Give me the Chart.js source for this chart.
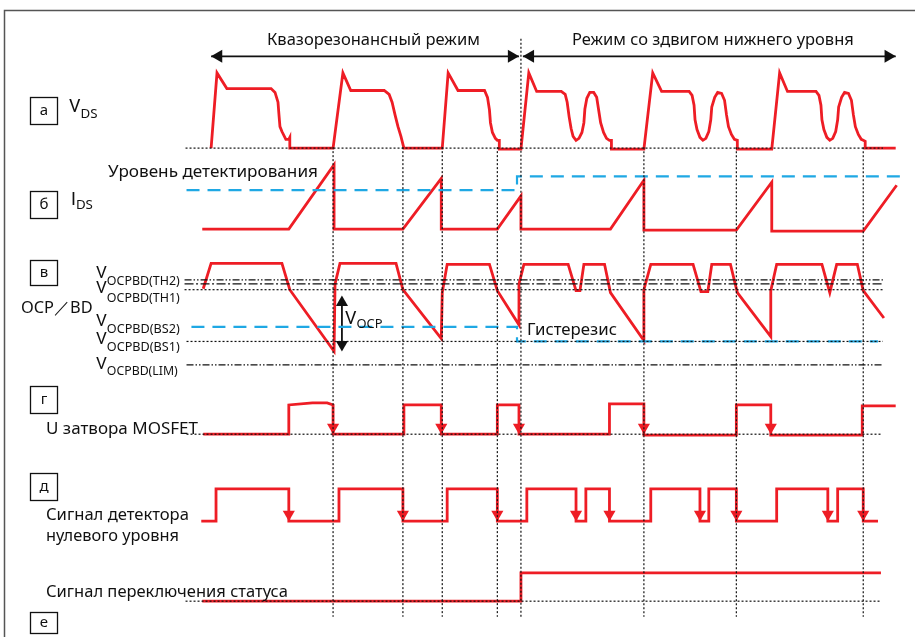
<!DOCTYPE html>
<html lang="ru">
<head>
<meta charset="UTF-8">
<title>Квазорезонансный режим / режим со сдвигом нижнего уровня</title>
<script src="https://cdn.jsdelivr.net/npm/chart.js"></script>
<style>
    html, body { margin: 0; padding: 0; background: #fff; }
    #wrap { width: 915px; height: 637px; }
</style>
</head>
<body>
<div id="wrap"><canvas id="timing" width="915" height="637"></canvas></div>
<script>
    // время (в тех же единицах, что и ширина рисунка) и уровни сигналов над их нулевой линией

    // а) V_DS
    const vdsT = [207, 213, 223, 268, 272, 275, 276, 277, 279, 283, 286, 287, 287,
        331, 341, 349, 383, 388, 391, 394, 397, 400, 403,
        442, 448, 458, 485, 488, 490, 491, 493, 496, 498, 500, 500,
        522, 530, 538, 563, 567, 569, 571, 573, 575, 578, 581, 584, 586, 587, 589, 592, 596, 599, 601, 603, 606, 609, 612, 614, 614,
        647, 656, 665, 693, 696, 698, 699, 701, 704, 707, 710, 713, 715, 716, 719, 722, 726, 729, 731, 733, 736, 739, 742, 742,
        777, 785, 793, 822, 825, 827, 828, 830, 833, 836, 839, 842, 844, 845, 848, 851, 855, 858, 860, 862, 865, 868, 870, 872, 872, 903];
    const vdsV = [0, 77, 61, 61, 57, 47, 34, 22, 17, 9, 9, 11, 0,
        0, 77, 59, 59, 55, 47, 34, 22, 12, 0,
        0, 77, 59, 59, 52, 39, 26, 16, 10, 8, 8, -1,
        -1, 77, 58, 58, 55, 47, 32, 20, 12, 8, 10, 16, 26, 40, 51, 57, 57, 52, 39, 26, 16, 10, 8, 8, -1,
        -1, 77, 58, 58, 54, 44, 29, 19, 11, 8, 10, 17, 29, 42, 52, 57, 56, 49, 34, 22, 14, 9, 8, -1,
        -1, 77, 58, 58, 54, 44, 29, 19, 11, 8, 10, 17, 29, 42, 52, 57, 56, 49, 34, 22, 14, 9, 8, 7, 0, 0];

    // б) I_DS и уровень детектирования
    const idsT = [198, 286, 332, 332, 402, 441, 441, 498, 522, 522, 613, 647, 647, 741, 777, 777, 870, 904];
    const idsV = [0, 0, 66, 0, 0, 52, 0, 0, 34, 0, 0, 50, -1, -1, 48, -2, -2, 45];
    const detectT = [182, 518, 518, 908];
    const detectV = [40, 40, 54, 54];

    // в) OCP/BD
    const ocpT = [199, 207, 279, 287, 332, 333, 338, 395, 402, 441, 442, 447, 490, 498, 520, 520, 525,
        570, 578, 582, 586, 607, 613, 647, 647, 654, 697, 705, 712, 716, 735, 742, 776, 776, 782,
        828, 836, 843, 864, 870, 891];
    const ocpV = [78, 104, 104, 77, 14, 83, 104, 104, 77, 27, 74, 103, 103, 76, 41, 83, 103,
        103, 76, 76, 103, 103, 74, 25, 77, 103, 103, 75, 75, 103, 103, 74, 29, 76, 103,
        103, 74, 103, 103, 76, 48];
    const thresholdNames = ['TH2', 'TH1', 'BS2', 'BS1', 'LIM'];
    const thresholdV = [87, 77, 39, 24, 0];
    const th2CompanionV = 83;
    const hystT = [187, 518, 518, 885];
    const hystV = [39, 39, 24, 24];

    // г) напряжение затвора MOSFET
    const gateT = [199, 286, 286, 310, 325, 331, 331, 403, 403, 441, 441, 498, 498, 520, 520,
        612, 612, 647, 647, 741, 741, 776, 776, 869, 869, 903];
    const gateV = [0, 0, 30, 32, 32, 30, 0, 0, 30, 30, 0, 0, 30, 30, 0,
        0, 31, 31, -1, -1, 30, 30, -1, -1, 29, 29];
    const gateFallT = [331, 441, 520, 647, 776];

    // д) сигнал детектора нулевого уровня
    const zcdT = [197, 212, 212, 286, 286, 337, 337, 402, 402, 447, 447, 498, 498, 528, 528, 578, 578, 588, 588,
        612, 612, 654, 654, 704, 704, 713, 713, 741, 741, 782, 782, 834, 834, 844, 844, 870, 870, 885];
    const zcdV = [0, 0, 33, 33, 0, 0, 33, 33, 0, 0, 33, 33, 0, 0, 33, 33, 0, 0, 33,
        33, 0, 0, 33, 33, 0, 0, 33, 33, 0, 0, 33, 33, 0, 0, 33, 33, 0, 0];
    const zcdFallT = [286, 402, 498, 578, 612, 704, 741, 834, 870];

    // е) сигнал переключения статуса
    const statusT = [198, 522, 522, 888];
    const statusV = [0, 0, 29, 29];

    // моменты переключения (вертикальные пунктиры)
    const markerT = [331, 402, 442, 498, 522, 647, 741, 870];
    const modeSwitchT = 522;

    // --- раскладка ---
    const base = { vds: 144, ids: 227, ocp: 366, gate: 437, zcd: 526, status: 608 };
    const RED = '#ee1d25';
    const BLUE = '#1fa8e4';
    const INK = '#111';
    const FONT = "'Noto Sans', 'Open Sans', sans-serif";
    const DOT = [2, 2];
    const DASH_DOT_DOT = [7, 2, 1.5, 2, 1.5, 2];
    const DASH_DOT = [9, 2.5, 2, 2.5];

    function series(t, v, b) {
        return t.map((x, i) => ({ x: x, y: b - v[i] }));
    }

    function line(data, color, width, dash, extra) {
        return Object.assign({
            type: 'scatter', data: data, showLine: true,
            borderColor: color, borderWidth: width, borderDash: dash || [],
            pointRadius: 0, fill: false, clip: false
        }, extra || {});
    }

    function heads(points, rotation, r, color) {
        return {
            type: 'scatter', data: points, showLine: false,
            pointStyle: 'triangle', rotation: rotation, pointRadius: r, pointHoverRadius: r,
            backgroundColor: color, borderColor: color, borderWidth: 0, clip: false
        };
    }

    const datasets = [];

    // нулевые линии
    datasets.push(line([{ x: 181, y: base.vds }, { x: 890, y: base.vds }], INK, 1.2, DOT));
    datasets.push(line([{ x: 182, y: base.gate }, { x: 888, y: base.gate }], INK, 1.2, DOT));
    datasets.push(line([{ x: 181, y: base.status }, { x: 888, y: base.status }], INK, 1.2, DOT));

    // пороговые уровни OCP/BD
    const thStyle = { TH2: DASH_DOT_DOT, TH1: DOT, BS2: null, BS1: DOT, LIM: DASH_DOT_DOT };
    thresholdNames.forEach((name, i) => {
        if (!thStyle[name]) return;
        const x0 = name === 'BS1' || name === 'LIM' ? 182 : 180;
        datasets.push(line([{ x: x0, y: base.ocp - thresholdV[i] }, { x: 890, y: base.ocp - thresholdV[i] }], INK, 1.2, thStyle[name]));
    });
    datasets.push(line([{ x: 180, y: base.ocp - th2CompanionV }, { x: 890, y: base.ocp - th2CompanionV }], INK, 1.2, DASH_DOT));

    // вертикальные пунктиры
    markerT.forEach(t => {
        const top = t === modeSwitchT ? 32 : base.vds - 1;
        datasets.push(line([{ x: t, y: top }, { x: t, y: 624 }], INK, 1.2, DOT));
    });

    // голубые пунктирные уровни
    datasets.push(line(series(detectT, detectV, base.ids), BLUE, 2.2, [13, 8]));
    datasets.push(line(series(hystT, hystV, base.ocp), BLUE, 2.2, [13, 8]));

    // красные осциллограммы
    [[vdsT, vdsV, base.vds], [idsT, idsV, base.ids], [ocpT, ocpV, base.ocp],
     [gateT, gateV, base.gate], [zcdT, zcdV, base.zcd], [statusT, statusV, base.status]].forEach(s => {
        datasets.push(line(series(s[0], s[1], s[2]), RED, 2.8, [], { borderJoinStyle: 'miter' }));
    });

    // стрелки на спадах
    const headR = 7;
    datasets.push(heads(gateFallT.map(t => ({ x: t, y: base.gate - headR })), 180, headR, RED));
    datasets.push(heads(zcdFallT.map(t => ({ x: t, y: base.zcd - headR })), 180, headR, RED));

    // стрелки режимов
    const modeY = 50;
    datasets.push(line([{ x: 207, y: modeY }, { x: 520, y: modeY }], INK, 1.8));
    datasets.push(line([{ x: 524, y: modeY }, { x: 903, y: modeY }], INK, 1.8));
    datasets.push(heads([{ x: 207 + 7.5, y: modeY }, { x: 524 + 7.5, y: modeY }], 270, 7.5, INK));
    datasets.push(heads([{ x: 520 - 7.5, y: modeY }, { x: 903 - 7.5, y: modeY }], 90, 7.5, INK));

    // V_OCP
    datasets.push(line([{ x: 340, y: 297 }, { x: 340, y: 350 }], INK, 1.8));
    datasets.push(heads([{ x: 340, y: 295 + 7 }], 0, 7, INK));
    datasets.push(heads([{ x: 340, y: 352 - 7 }], 180, 7, INK));

    // подписи
    const boxes = [
        ['а', 30, 97, 27, 27], ['б', 30, 191, 27, 27], ['в', 30, 260, 27, 25],
        ['г', 30, 386, 27, 27], ['д', 30, 473, 27, 27], ['е', 30, 612, 27, 21]
    ];
    // текст, x, базовая линия, ширина
    const texts = [
        ['Квазорезонансный режим', 267, 45, 213],
        ['Режим со здвигом нижнего уровня', 572, 45, 282],
        ['Уровень детектирования', 108, 177, 210],
        ['OCP／BD', 21, 313, 72],
        ['Гистерезис', 527, 335, 90],
        ['U затвора MOSFET', 46, 434, 152],
        ['Сигнал детектора', 46, 520, 143],
        ['нулевого уровня', 46, 541, 133],
        ['Сигнал переключения статуса', 46, 597, 242]
    ];
    // основной символ, индекс, x, базовая символа, базовая индекса, ширина индекса, кегль символа
    const subLabels = [
        ['V', 'DS', 69, 112, 118, 17, 18],
        ['I', 'DS', 71, 205, 209, 17, 18],
        ['V', 'OCPBD(TH2)', 96, 278, 285, 73, 17],
        ['V', 'OCPBD(TH1)', 96, 293, 302, 73, 17],
        ['V', 'OCPBD(BS2)', 96, 326, 333, 73, 17],
        ['V', 'OCPBD(BS1)', 96, 344, 351, 73, 17],
        ['V', 'OCPBD(LIM)', 96, 369, 375, 71, 17],
        ['V', 'OCP', 345, 324, 328, 26, 18]
    ];

    function fitFont(ctx, text, width) {
        ctx.font = '20px ' + FONT;
        const size = 20 * width / ctx.measureText(text).width;
        ctx.font = size.toFixed(2) + 'px ' + FONT;
    }

    const decor = {
        id: 'decor',
        afterDraw(chart) {
            const ctx = chart.ctx;
            ctx.save();
            // рамка
            ctx.strokeStyle = '#555';
            ctx.lineWidth = 1.5;
            ctx.beginPath();
            ctx.moveTo(4.5, 640);
            ctx.lineTo(4.5, 10.5);
            ctx.lineTo(920, 10.5);
            ctx.stroke();

            ctx.fillStyle = INK;
            ctx.strokeStyle = INK;
            ctx.lineWidth = 1.3;
            boxes.forEach(b => {
                ctx.strokeRect(b[1] + 0.5, b[2] + 0.5, b[3], b[4]);
                ctx.font = '15px ' + FONT;
                ctx.textAlign = 'center';
                ctx.textBaseline = 'middle';
                ctx.fillText(b[0], b[1] + b[3] / 2 + 0.5, b[2] + b[4] / 2);
            });
            ctx.textAlign = 'left';
            ctx.textBaseline = 'alphabetic';
            texts.forEach(t => {
                fitFont(ctx, t[0], t[3]);
                ctx.fillText(t[0], t[1], t[2]);
            });
            subLabels.forEach(s => {
                ctx.font = s[6] + "px Roboto, 'Noto Sans', sans-serif";
                ctx.fillText(s[0], s[2], s[3]);
                const w = ctx.measureText(s[0]).width;
                fitFont(ctx, s[1], s[5]);
                ctx.fillText(s[1], s[2] + w, s[4]);
            });
            ctx.restore();
        }
    };

    new Chart(document.getElementById('timing'), {
        type: 'scatter',
        data: { datasets: datasets },
        options: {
            responsive: false,
            animation: false,
            events: [],
            layout: { padding: 0 },
            plugins: { legend: { display: false }, tooltip: { enabled: false } },
            scales: {
                x: { type: 'linear', min: 0, max: 915, display: false },
                y: { type: 'linear', min: 0, max: 637, reverse: true, display: false }
            }
        },
        plugins: [decor]
    });
</script>
</body>
</html>
